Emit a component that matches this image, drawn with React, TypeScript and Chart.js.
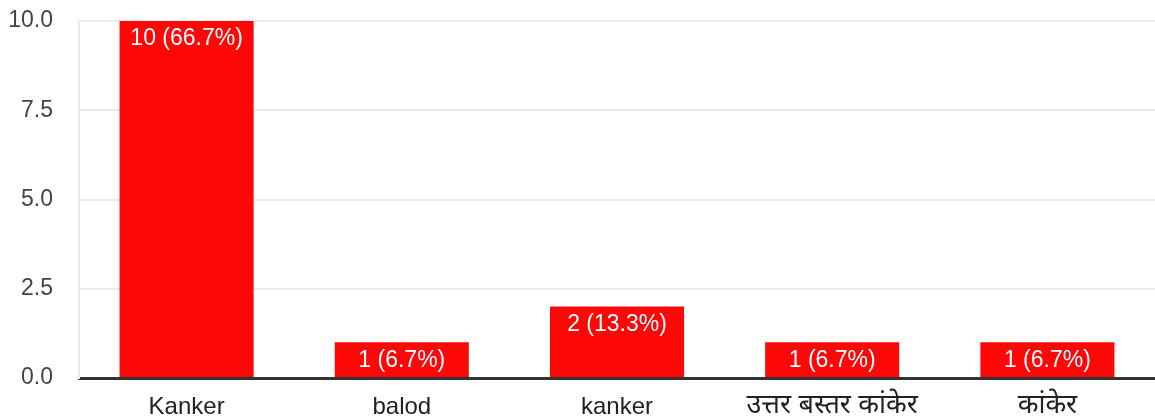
import React, { useEffect, useRef } from "react";
import { Chart, registerables } from "chart.js";

Chart.register(...registerables);

const categories = ["Kanker", "balod", "kanker", "उत्तर बस्तर कांकेर", "कांकेर"];
const counts = [10, 1, 2, 1, 1];
const valueLabels = ["10 (66.7%)", "1 (6.7%)", "2 (13.3%)", "1 (6.7%)", "1 (6.7%)"];
const yTicks = [0, 2.5, 5, 7.5, 10];

const FONT = "'Liberation Sans', Arial, 'Noto Sans Devanagari', sans-serif";
const SIZE = 23;

const barLabelPlugin = {
  id: "barLabels",
  afterDatasetsDraw(chart: any) {
    const ctx = chart.ctx;
    const meta = chart.getDatasetMeta(0);
    ctx.save();
    ctx.fillStyle = "#ffffff";
    ctx.font = `${SIZE}px ${FONT}`;
    ctx.textAlign = "center";
    ctx.textBaseline = "middle";
    meta.data.forEach((bar: any, i: number) => {
      ctx.fillText(valueLabels[i], bar.x, bar.y + 18);
    });
    ctx.restore();
  },
};

const isDevanagari = (s: string) => /[\u0900-\u097F]/.test(s);

export default function App() {
  const ref = useRef<HTMLCanvasElement>(null);
  useEffect(() => {
    document.body.style.margin = "0";
    const chart = new Chart(ref.current!, {
      type: "bar",
      data: {
        labels: categories,
        datasets: [
          {
            data: counts,
            backgroundColor: "#fd0707",
            barPercentage: 0.623,
            categoryPercentage: 1,
          },
        ],
      },
      options: {
        animation: false,
        responsive: false,
        maintainAspectRatio: false,
        layout: { padding: { top: 21, right: 0, left: 0, bottom: 0 } },
        plugins: { legend: { display: false }, tooltip: { enabled: false } },
        scales: {
          x: {
            grid: { display: false, drawTicks: false },
            border: { display: true, color: "#333333", width: 3 },
            ticks: {
              color: "#222222",
              font: (c: any) =>
                isDevanagari(categories[c.index] || "")
                  ? { family: FONT, size: 27, lineHeight: 0.9 }
                  : { family: FONT, size: 24, lineHeight: 1.2 },
              padding: 15,
              maxRotation: 0,
              autoSkip: false,
            },
            afterFit(scale: any) {
              scale.height = 41;
              scale.paddingTop = 0;
              scale.paddingBottom = 0;
              scale.paddingLeft = 0;
              scale.paddingRight = 0;
            },
          },
          y: {
            min: 0,
            max: 10,
            afterBuildTicks(scale: any) {
              scale.ticks = yTicks.map((v) => ({ value: v }));
            },
            grid: { color: "#ebebeb", lineWidth: 2, drawTicks: false },
            border: { display: true, color: "#ebebeb", width: 2 },
            ticks: {
              color: "#444444",
              font: { family: FONT, size: SIZE },
              padding: 26,
              callback: (v: any) => Number(v).toFixed(1),
            },
            afterFit(scale: any) {
              scale.width = 79;
              scale.paddingTop = 0;
              scale.paddingBottom = 0;
            },
          },
        },
      },
      plugins: [barLabelPlugin],
    });
    return () => chart.destroy();
  }, []);
  return <canvas ref={ref} width={1155} height={419} style={{ display: "block" }} />;
}
